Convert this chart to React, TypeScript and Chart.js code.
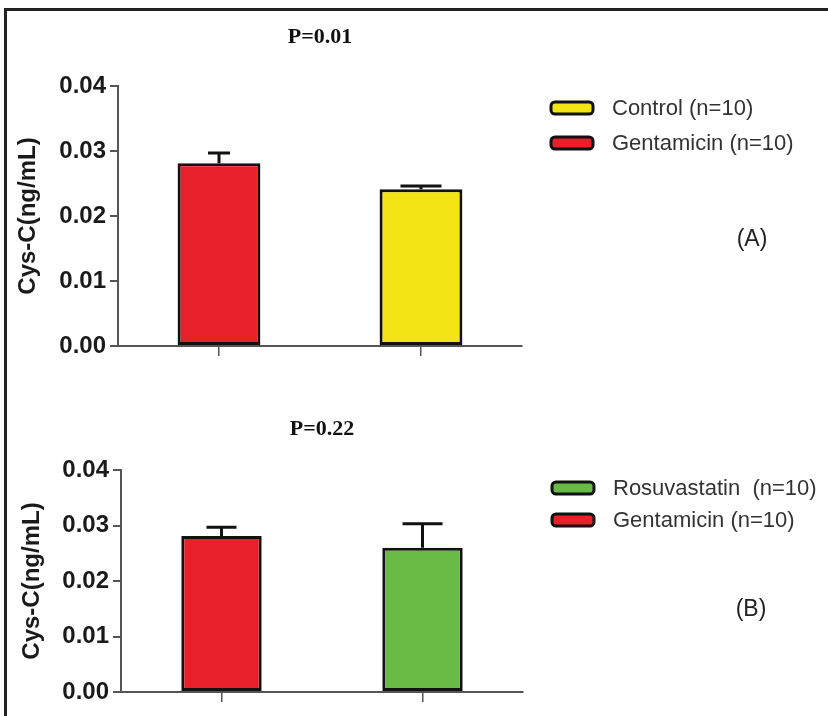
import React, { useEffect, useRef } from 'react';
import { Chart, registerables } from 'chart.js';

Chart.register(...registerables);

// ---- Panel A data ----
const categoriesA = ['Gentamicin', 'Control'];
const meansA = [0.0281, 0.0241];
const semA = [0.0016, 0.0005];
const barColorsA = ['#E8202A', '#F3E515'];
const legendLabelsA = ['Control (n=10)', 'Gentamicin (n=10)'];
const legendColorsA = ['#F3E515', '#E8202A'];
const titleA = 'P=0.01';
const panelLabelA = '(A)';

// ---- Panel B data ----
const categoriesB = ['Gentamicin', 'Rosuvastatin'];
const meansB = [0.0281, 0.026];
const semB = [0.0016, 0.0043];
const barColorsB = ['#E8202A', '#67BB45'];
const legendLabelsB = ['Rosuvastatin  (n=10)', 'Gentamicin (n=10)'];
const legendColorsB = ['#67BB45', '#E8202A'];
const titleB = 'P=0.22';
const panelLabelB = '(B)';

// ---- shared axis ----
const yMin = 0;
const yMax = 0.04;
const yStep = 0.01;
const yTitle = 'Cys-C(ng/mL)';

type PanelCfg = {
  categories: string[];
  means: number[];
  sem: number[];
  barColors: string[];
  legendLabels: string[];
  legendColors: string[];
  title: string;
  panelLabel: string;
  width: number;
  height: number;
  padding: { left: number; top: number; right: number; bottom: number };
  yAxisWidth: number;
  yTitlePad: number;
  capWidths: number[];
  barPct: number;
  titleY: number;
  legendX: number;
  legendTextX: number;
  legendRows: number[];
  panelLabelPos: [number, number];
};

function makeErrorBarPlugin(cfg: PanelCfg) {
  return {
    id: 'errorBars',
    afterDatasetsDraw(chart: any) {
      const { ctx } = chart;
      const meta = chart.getDatasetMeta(0);
      const y = chart.scales.y;
      ctx.save();
      ctx.strokeStyle = '#111';
      ctx.lineWidth = 3;
      ctx.lineCap = 'butt';
      meta.data.forEach((bar: any, i: number) => {
        const topPx = y.getPixelForValue(cfg.means[i] + cfg.sem[i]);
        const basePx = y.getPixelForValue(cfg.means[i]);
        const hw = cfg.capWidths[i] / 2;
        ctx.beginPath();
        ctx.moveTo(bar.x, basePx);
        ctx.lineTo(bar.x, topPx);
        ctx.moveTo(bar.x - hw, topPx);
        ctx.lineTo(bar.x + hw, topPx);
        ctx.stroke();
      });
      ctx.restore();
    },
  };
}

function makeTextPlugin(cfg: PanelCfg) {
  return {
    id: 'panelText',
    afterDraw(chart: any) {
      const { ctx, chartArea } = chart;
      ctx.save();
      // title
      ctx.fillStyle = '#111';
      ctx.font = "bold 22px 'Liberation Serif', 'Times New Roman', serif";
      ctx.textAlign = 'center';
      ctx.textBaseline = 'middle';
      ctx.fillText(cfg.title, (chartArea.left + chartArea.right) / 2, cfg.titleY);
      // legend
      ctx.font = "22px 'Liberation Sans', Arial, sans-serif";
      ctx.textAlign = 'left';
      cfg.legendLabels.forEach((lab, i) => {
        const cy = cfg.legendRows[i];
        const x = cfg.legendX;
        const w = 42;
        const h = 12;
        ctx.beginPath();
        if (ctx.roundRect) ctx.roundRect(x, cy - h / 2, w, h, 4);
        else ctx.rect(x, cy - h / 2, w, h);
        ctx.fillStyle = cfg.legendColors[i];
        ctx.fill();
        ctx.lineWidth = 3;
        ctx.strokeStyle = '#111';
        ctx.stroke();
        ctx.fillStyle = '#333';
        ctx.fillText(lab, cfg.legendTextX, cy + 1);
      });
      // panel label
      ctx.font = "23px 'Liberation Sans', Arial, sans-serif";
      ctx.textAlign = 'center';
      ctx.fillStyle = '#222';
      ctx.fillText(cfg.panelLabel, cfg.panelLabelPos[0], cfg.panelLabelPos[1]);
      ctx.restore();
    },
  };
}

function buildConfig(cfg: PanelCfg): any {
  return {
    type: 'bar',
    data: {
      labels: cfg.categories,
      datasets: [
        {
          label: 'Cys-C',
          data: cfg.means,
          backgroundColor: cfg.barColors,
          borderColor: '#111',
          borderWidth: 3,
          borderSkipped: false,
          categoryPercentage: 1,
          barPercentage: cfg.barPct,
        },
      ],
    },
    options: {
      responsive: false,
      animation: false,
      layout: { padding: cfg.padding },
      plugins: {
        legend: { display: false },
        tooltip: { enabled: false },
        title: { display: false },
      },
      scales: {
        x: {
          offset: true,
          grid: {
            display: true,
            offset: false,
            drawOnChartArea: false,
            drawTicks: true,
            tickLength: 10,
            color: '#555',
            lineWidth: 1.5,
          },
          border: { display: true, color: '#555', width: 2 },
          ticks: { callback: () => '', padding: 0 },
          afterFit: (s: any) => {
            s.height = 20;
          },
        },
        y: {
          min: yMin,
          max: yMax,
          ticks: {
            stepSize: yStep,
            padding: 4,
            color: '#1a1a1a',
            font: { family: "'Liberation Sans', Arial, sans-serif", size: 24, weight: 'bold' },
            callback: (v: any) => Number(v).toFixed(2),
          },
          grid: {
            display: true,
            drawOnChartArea: false,
            drawTicks: true,
            tickLength: 8,
            color: '#555',
            lineWidth: 2,
          },
          border: { display: true, color: '#555', width: 2 },
          title: {
            display: true,
            text: yTitle,
            color: '#1a1a1a',
            font: { family: "'Liberation Sans', Arial, sans-serif", size: 24, weight: 'bold' },
            padding: { top: cfg.yTitlePad, bottom: 0 },
          },
          afterFit: (s: any) => {
            s.width = cfg.yAxisWidth;
          },
        },
      },
    },
    plugins: [makeErrorBarPlugin(cfg), makeTextPlugin(cfg)],
  };
}

const cfgA: PanelCfg = {
  categories: categoriesA,
  means: meansA,
  sem: semA,
  barColors: barColorsA,
  legendLabels: legendLabelsA,
  legendColors: legendColorsA,
  title: titleA,
  panelLabel: panelLabelA,
  width: 828,
  height: 390,
  padding: { left: 8, top: 86, right: 306, bottom: 24 },
  yAxisWidth: 110,
  yTitlePad: 6,
  capWidths: [22, 41],
  barPct: 0.41,
  titleY: 37,
  legendX: 551,
  legendTextX: 612,
  legendRows: [108, 143],
  panelLabelPos: [752, 240],
};

const cfgB: PanelCfg = {
  categories: categoriesB,
  means: meansB,
  sem: semB,
  barColors: barColorsB,
  legendLabels: legendLabelsB,
  legendColors: legendColorsB,
  title: titleB,
  panelLabel: panelLabelB,
  width: 828,
  height: 326,
  padding: { left: 8, top: 80, right: 305, bottom: 4 },
  yAxisWidth: 113,
  yTitlePad: 10,
  capWidths: [30, 40],
  barPct: 0.4,
  titleY: 39,
  legendX: 552,
  legendTextX: 613,
  legendRows: [98, 130],
  panelLabelPos: [751, 220],
};

function PanelChart({ cfg, top }: { cfg: PanelCfg; top: number }) {
  const ref = useRef<HTMLCanvasElement | null>(null);
  useEffect(() => {
    if (!ref.current) return;
    const chart = new Chart(ref.current, buildConfig(cfg));
    return () => chart.destroy();
  }, [cfg]);
  return (
    <canvas
      ref={ref}
      width={cfg.width}
      height={cfg.height}
      style={{ position: 'absolute', left: 0, top, width: cfg.width, height: cfg.height }}
    />
  );
}

export default function App() {
  return (
    <div
      style={{
        position: 'absolute',
        left: 0,
        top: 0,
        width: 828,
        height: 716,
        background: '#fff',
        overflow: 'hidden',
      }}
    >
      <div
        style={{
          position: 'absolute',
          left: 4,
          top: 8,
          right: 0,
          bottom: 0,
          borderTop: '3px solid #222',
          borderLeft: '3px solid #222',
        }}
      />
      <PanelChart cfg={cfgA} top={0} />
      <PanelChart cfg={cfgB} top={390} />
    </div>
  );
}
